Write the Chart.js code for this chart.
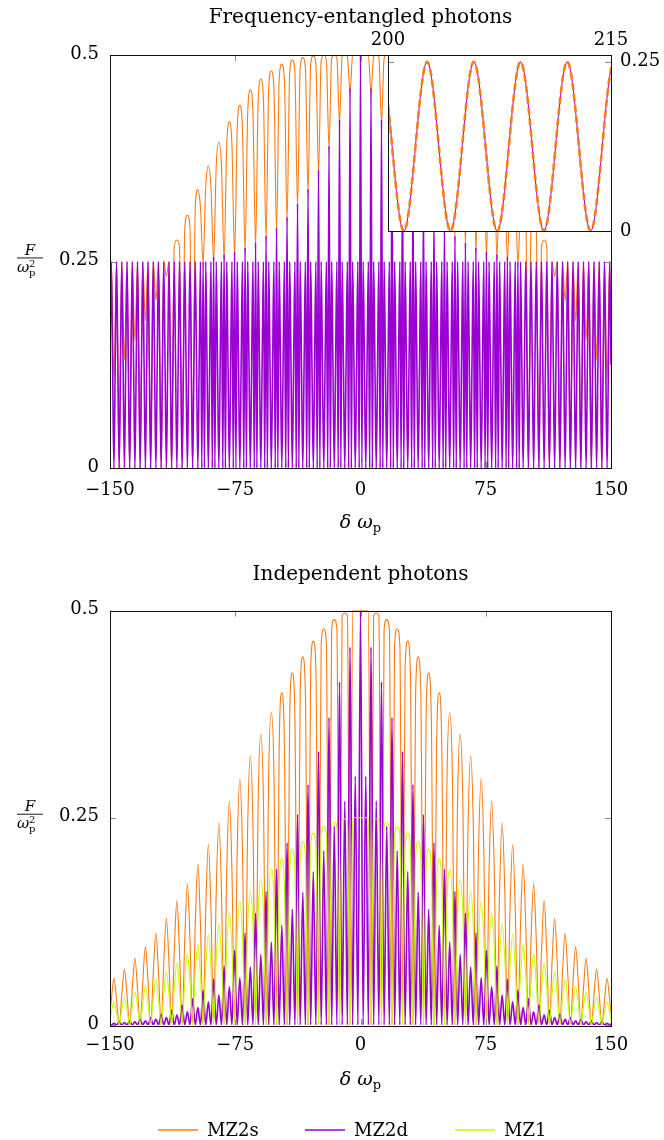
<!DOCTYPE html>
<html>
<head>
<meta charset="utf-8">
<script src="https://cdn.jsdelivr.net/npm/chart.js@4.4.0/dist/chart.umd.min.js"></script>
<style>
  body { margin: 0; background: #fff; }
  #wrap { position: relative; width: 664px; height: 1140px; }
  canvas { position: absolute; }
</style>
</head>
<body>
<div id="wrap">
  <canvas id="top" width="664" height="560" style="left:0;top:0;width:664px;height:560px"></canvas>
  <canvas id="bottom" width="664" height="580" style="left:0;top:560px;width:664px;height:580px"></canvas>
  <canvas id="inset" width="314" height="225" style="left:350px;top:20px;width:314px;height:225px"></canvas>
</div>
<script>
// axes
var xTicks = [-150, -75, 0, 75, 150];
var yTicks = [0, 0.25, 0.5];
var insetXTicks = [200, 215];
var insetYTicks = [0, 0.25];

var seriesNames = ['MZ2s', 'MZ2d', 'MZ1'];
var seriesColors = ['#ff7a12', '#9b00d3', '#c6ff00'];

// samples sit on multiples of pi/4 and pi/2; the fast fringe has period pi
var QUARTER = Math.PI / 4;
var HALF = Math.PI / 2;

// ---- frequency-entangled photons ----
var topFringe = 0.25;      // fringe top at (k + 1/2) pi
var topFringeMid = 0.125;  // fringe half height
// MZ2d spike tops at even k pi, |k| = 0, 2, 4, ...
var topMZ2dSpike = [0.5, 0.460, 0.422, 0.390, 0.361, 0.338, 0.320, 0.304, 0.291, 0.281,
  0.273, 0.267, 0.262, 0.259, 0.256, 0.250, 0, 0, 0, 0,
  0, 0, 0, 0, 0];
// MZ2d foot of each spike, at k pi +- pi/4
var topMZ2dFoot = [0, 0, 0, 0, 0, 0, 0, 0, 0, 0,
  0, 0, 0, 0, 0, 0, 0.125, 0.125, 0.125, 0.125,
  0.125, 0.125, 0.125, 0.125, 0.125];
// MZ2s at odd m pi, m = 1, 3, 5, ...
var topMZ2sLobe = [0.5, 0.5, 0.5, 0.5, 0.499, 0.497, 0.494, 0.489, 0.481, 0.471,
  0.458, 0.439, 0.419, 0.394, 0.366, 0.337, 0.306, 0.276, 0.232, 0.203,
  0.178, 0.154, 0.131, 0.109];
// MZ2s at (m +- 1/2) pi
var topMZ2sShoulder = [0.5, 0.498, 0.496, 0.493, 0.489, 0.484, 0.478, 0.47, 0.459, 0.446,
  0.43, 0.41, 0.39, 0.366, 0.34, 0.315, 0.29, 0.268, 0.25, 0.25,
  0.25, 0.25, 0.25, 0.25];
// MZ2s between lobes, at even k pi (k = 0 is the flat top)
var topMZ2sDip = [0.5, 0.455, 0.418, 0.386, 0.357, 0.334, 0.316, 0.300, 0.287, 0.277,
  0.269, 0.262, 0.256, 0.253, 0.25, 0.248, 0, 0, 0, 0,
  0, 0, 0, 0, 0];

// ---- independent photons ----
var botMZ2sLobe = [0.5, 0.497, 0.489, 0.478, 0.463, 0.444, 0.425, 0.401, 0.377, 0.351,
  0.324, 0.297, 0.270, 0.244, 0.218, 0.194, 0.171, 0.150, 0.129, 0.111,
  0.0945, 0.0804, 0.0675, 0.0563];
var botMZ2sShoulder = [0.5, 0.494, 0.478, 0.458, 0.431, 0.399, 0.370, 0.335, 0.303, 0.270,
  0.240, 0.211, 0.185, 0.161, 0.139, 0.120, 0.103, 0.088, 0.074, 0.0624,
  0.0522, 0.0437, 0.0362, 0.0298];
var botMZ2sDip = [0.5, 0, 0, 0, 0, 0, 0, 0, 0, 0,
  0, 0, 0, 0, 0, 0, 0, 0, 0, 0,
  0, 0, 0, 0, 0];
var botMZ1Lobe = [0.25, 0.2485, 0.2445, 0.239, 0.2315, 0.222, 0.2125, 0.2005, 0.1885, 0.1755,
  0.162, 0.1485, 0.135, 0.122, 0.109, 0.097, 0.0855, 0.075, 0.0645, 0.0555,
  0.047, 0.040, 0.034, 0.028];
var botMZ1Shoulder = [0.25, 0.247, 0.239, 0.229, 0.2155, 0.1995, 0.185, 0.1675, 0.1515, 0.135,
  0.12, 0.1055, 0.0925, 0.0805, 0.0695, 0.06, 0.0515, 0.044, 0.037, 0.031,
  0.026, 0.022, 0.018, 0.015];
var botMZ1Dip = [0.25, 0, 0, 0, 0, 0, 0, 0, 0, 0,
  0, 0, 0, 0, 0, 0, 0, 0, 0, 0,
  0, 0, 0, 0, 0];
// MZ2d spikes at even k pi and side peaks at odd k pi
var botMZ2dSpike = [0.5, 0.456, 0.414, 0.371, 0.330, 0.290, 0.254, 0.220, 0.188, 0.161,
  0.135, 0.111, 0.090, 0.071, 0.055, 0.042, 0.032, 0.024, 0.018, 0.013,
  0.009, 0.007, 0.005, 0.004, 0.003];
var botMZ2dSide = [0.30, 0.27, 0.24, 0.21, 0.185, 0.16, 0.14, 0.12, 0.10, 0.085,
  0.07, 0.057, 0.046, 0.036, 0.028, 0.021, 0.016, 0.012, 0.009, 0.007,
  0.005, 0.004, 0.003, 0.002];

// ---- zoomed window, 200..215 ----
var insetFringe = 0.25;
var insetTrough = 0;

function at(arr, i) { return arr[Math.min(i, arr.length - 1)]; }

function buildSeries(from, to, step, pick) {
  var pts = [];
  for (var j = from; j <= to; j++) pts.push({ x: j * step, y: pick(Math.abs(j)) });
  return pts;
}

// odd lobe index that owns the half point n*pi/2 (n odd)
function lobeOf(n) { var a = (n - 1) / 2; return a % 2 ? a : a + 1; }

function lobePicker(lobe, shoulder, dip) {
  return function (n) {
    if (n % 2) return at(shoulder, (lobeOf(n) - 1) / 2);
    var k = n / 2;
    return k % 2 ? at(lobe, (k - 1) / 2) : at(dip, k / 2);
  };
}

var topMZ2s = buildSeries(-96, 96, HALF, lobePicker(topMZ2sLobe, topMZ2sShoulder, topMZ2sDip));
var topMZ2d = buildSeries(-192, 192, QUARTER, function (n) {
  var r = n % 4, k;
  if (r === 2) return topFringe;
  if (r === 0) { k = n / 4; return k % 2 ? 0 : at(topMZ2dSpike, k / 2); }
  k = r === 1 ? (n - 1) / 4 : (n + 1) / 4;
  return k % 2 ? topFringeMid : at(topMZ2dFoot, k / 2);
});

var botMZ2s = buildSeries(-96, 96, HALF, lobePicker(botMZ2sLobe, botMZ2sShoulder, botMZ2sDip));
var botMZ1 = buildSeries(-96, 96, HALF, lobePicker(botMZ1Lobe, botMZ1Shoulder, botMZ1Dip));
var botMZ2d = buildSeries(-96, 96, HALF, function (n) {
  if (n % 2) return 0;
  var k = n / 2;
  return k % 2 ? at(botMZ2dSide, (k - 1) / 2) : at(botMZ2dSpike, k / 2);
});

var insetPts = buildSeries(126, 138, HALF, function (n) { return n % 2 ? insetFringe : insetTrough; });

var SERIF = '"DejaVu Serif", serif';

function fmt(v) { return String(v).replace('-', '\u2212'); }

function drawDeltaLabel(ctx, cx, cy) {
  ctx.save();
  ctx.textBaseline = 'alphabetic';
  ctx.textAlign = 'left';
  ctx.font = 'italic 19px ' + SERIF;
  var w1 = ctx.measureText('\u03b4').width, w2 = ctx.measureText('\u03c9').width;
  ctx.font = '13px ' + SERIF;
  var w3 = ctx.measureText('p').width;
  var total = w1 + 6 + w2 + w3;
  var x = cx - total / 2;
  ctx.font = 'italic 19px ' + SERIF;
  ctx.fillText('\u03b4', x, cy + 6);
  ctx.fillText('\u03c9', x + w1 + 6, cy + 6);
  ctx.font = '13px ' + SERIF;
  ctx.fillText('p', x + w1 + 6 + w2, cy + 10);
  ctx.restore();
}

// F over omega_p squared
function drawFraction(ctx, cx, cy) {
  ctx.save();
  ctx.textAlign = 'center';
  ctx.textBaseline = 'alphabetic';
  ctx.font = 'italic 15px ' + SERIF;
  ctx.fillText('F', cx, cy - 4);
  ctx.fillRect(cx - 13, cy - 1, 26, 0.9);
  ctx.textAlign = 'left';
  ctx.fillText('\u03c9', cx - 13, cy + 13);
  ctx.font = '10px ' + SERIF;
  ctx.fillText('2', cx - 1, cy + 8);
  ctx.fillText('p', cx - 1, cy + 17);
  ctx.restore();
}

var decor = {
  id: 'decor',
  beforeDatasetsDraw: function (chart, args, o) {
    if (!o.whiteBox) return;
    var a = chart.chartArea, ctx = chart.ctx;
    ctx.save();
    ctx.fillStyle = '#fff';
    ctx.fillRect(a.left, a.top, a.right - a.left, a.bottom - a.top);
    ctx.restore();
  },
  afterDatasetsDraw: function (chart, args, o) {
    var a = chart.chartArea, ctx = chart.ctx;
    var xs = chart.scales.x, ys = chart.scales.y;
    ctx.save();
    // inward ticks
    ctx.strokeStyle = '#8c8c8c';
    ctx.lineWidth = 1;
    ctx.beginPath();
    (o.xTicks || []).forEach(function (v) {
      var px = Math.round(xs.getPixelForValue(v)) + 0.5;
      ctx.moveTo(px, a.bottom); ctx.lineTo(px, a.bottom - 6);
      ctx.moveTo(px, a.top); ctx.lineTo(px, a.top + 6);
    });
    (o.yTicks || []).forEach(function (v) {
      var py = Math.round(ys.getPixelForValue(v)) + 0.5;
      ctx.moveTo(a.left, py); ctx.lineTo(a.left + 6, py);
      ctx.moveTo(a.right, py); ctx.lineTo(a.right - 6, py);
    });
    ctx.stroke();
    // frame
    ctx.strokeStyle = '#111';
    ctx.lineWidth = 1;
    ctx.strokeRect(Math.round(a.left) + 0.5, Math.round(a.top) + 0.5,
      Math.round(a.right - a.left), Math.round(a.bottom - a.top));

    ctx.fillStyle = '#000';
    ctx.font = '18px ' + SERIF;
    ctx.textBaseline = 'middle';
    if (o.xLabels) {
      ctx.textAlign = 'center';
      o.xTicks.forEach(function (v) {
        ctx.fillText(fmt(v), xs.getPixelForValue(v), a.bottom + o.xLabelGap);
      });
    }
    if (o.yLabels) {
      ctx.textAlign = 'right';
      o.yTicks.forEach(function (v) {
        ctx.fillText(fmt(v), a.left - 11, ys.getPixelForValue(v) - 1);
      });
    }
    if (o.topLabels) {
      ctx.textAlign = 'center';
      o.xTicks.forEach(function (v) {
        ctx.fillText(fmt(v), xs.getPixelForValue(v), a.top - 15);
      });
    }
    if (o.rightLabels) {
      ctx.textAlign = 'left';
      o.yTicks.forEach(function (v) {
        ctx.fillText(fmt(v), a.right + 9, ys.getPixelForValue(v));
      });
    }
    if (o.title) {
      ctx.textAlign = 'center';
      ctx.font = '20px ' + SERIF;
      ctx.fillText(o.title, (a.left + a.right) / 2, o.titleY);
    }
    if (o.axisTitles) {
      drawDeltaLabel(ctx, (a.left + a.right) / 2, a.bottom + o.xTitleGap);
      drawFraction(ctx, 30, (a.top + a.bottom) / 2 - 3);
    }
    if (o.legendY) {
      ctx.textAlign = 'left';
      ctx.font = '18px ' + SERIF;
      var lx = [158, 305, 455];
      seriesNames.forEach(function (name, i) {
        ctx.strokeStyle = seriesColors[i];
        ctx.lineWidth = 1.3;
        ctx.beginPath();
        ctx.moveTo(lx[i], o.legendY); ctx.lineTo(lx[i] + 40, o.legendY);
        ctx.stroke();
        ctx.fillText(name, lx[i] + 49, o.legendY + 1);
      });
    }
    ctx.restore();
  }
};

function lineSet(label, data, color, width, order, dash) {
  return {
    label: label, data: data, borderColor: color, borderWidth: width,
    pointRadius: 0, cubicInterpolationMode: 'monotone',
    fill: false, order: order, borderDash: dash || []
  };
}

function baseOptions(pad, xMin, xMax, yMin, yMax, decorOpts) {
  return {
    responsive: false, animation: false, devicePixelRatio: 1,
    layout: { padding: pad },
    scales: {
      x: { type: 'linear', min: xMin, max: xMax, display: false },
      y: { type: 'linear', min: yMin, max: yMax, display: false }
    },
    plugins: { legend: { display: false }, tooltip: { enabled: false }, decor: decorOpts },
    events: []
  };
}

Chart.register(decor);

new Chart(document.getElementById('top'), {
  type: 'line',
  data: { datasets: [
    lineSet('MZ2s', topMZ2s, seriesColors[0], 1.1, 2),
    lineSet('MZ2d', topMZ2d, seriesColors[1], 1.6, 1)
  ] },
  options: baseOptions({ left: 110, right: 53, top: 55, bottom: 92 }, -150, 150, 0, 0.5, {
    xTicks: xTicks, yTicks: yTicks, xLabels: true, yLabels: true, xLabelGap: 22,
    title: 'Frequency-entangled photons', titleY: 18, axisTitles: true, xTitleGap: 54
  })
});

new Chart(document.getElementById('bottom'), {
  type: 'line',
  data: { datasets: [
    lineSet('MZ2s', botMZ2s, seriesColors[0], 1.1, 3),
    lineSet('MZ2d', botMZ2d, seriesColors[1], 1.6, 2),
    lineSet('MZ1', botMZ1, seriesColors[2], 1.1, 1)
  ] },
  options: baseOptions({ left: 110, right: 53, top: 50.5, bottom: 115 }, -150, 150, 0, 0.5, {
    xTicks: xTicks, yTicks: yTicks, xLabels: true, yLabels: true, xLabelGap: 20,
    title: 'Independent photons', titleY: 15, axisTitles: true, xTitleGap: 54,
    legendY: 570
  })
});

new Chart(document.getElementById('inset'), {
  type: 'line',
  data: { datasets: [
    lineSet('MZ2s', insetPts, seriesColors[0], 2.6, 1, [7, 4]),
    lineSet('MZ2d', insetPts, seriesColors[1], 1, 2)
  ] },
  options: baseOptions({ left: 38, right: 53, top: 35, bottom: 14 }, 200, 215, 0, 0.26, {
    whiteBox: true, xTicks: insetXTicks, yTicks: insetYTicks, topLabels: true, rightLabels: true
  })
});
</script>
</body>
</html>
